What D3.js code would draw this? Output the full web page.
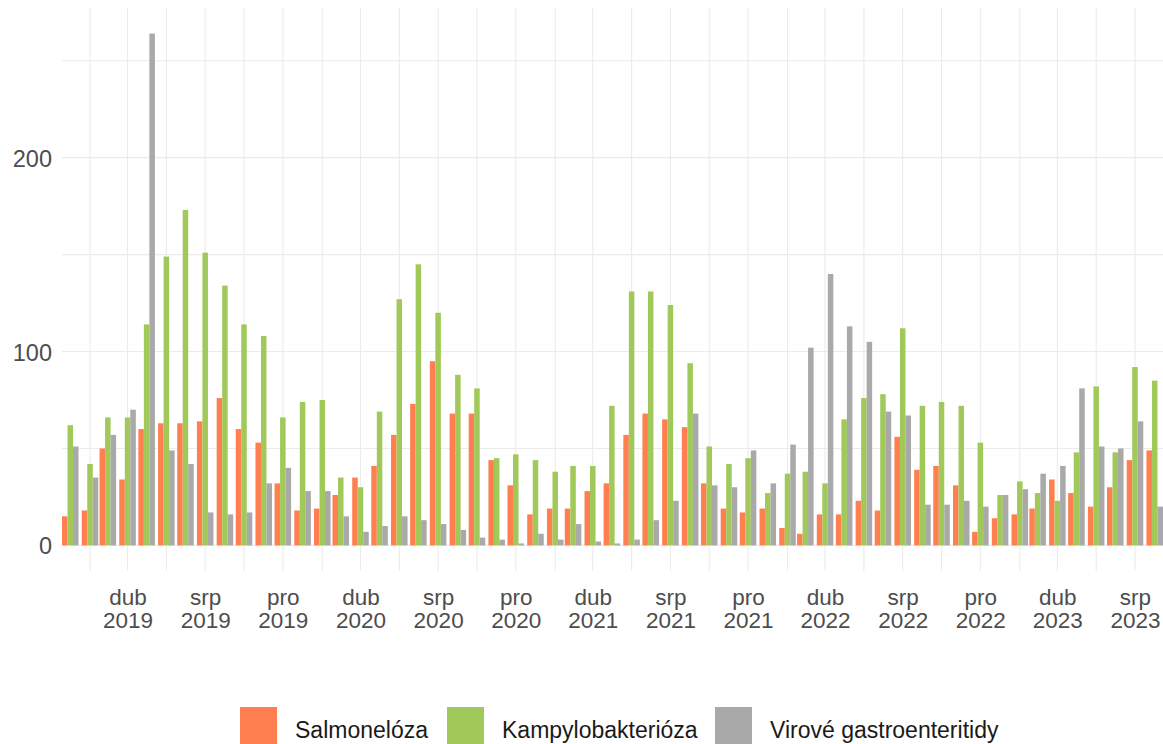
<!DOCTYPE html>
<html>
<head>
<meta charset="utf-8">
<script src="https://cdn.jsdelivr.net/npm/d3@7"></script>
<style>
body { margin: 0; background: #fff; }
svg { display: block; font-family: "Liberation Sans", Arial, sans-serif; }
.grid line { stroke: #ebebeb; stroke-width: 1.1; }
.axis text { fill: #4d4d4d; font-size: 22.5px; }
.axis.y text { font-size: 23.5px; }
.axis path, .axis line { display: none; }
.legend text { font-size: 23px; fill: #1a1a1a; }
</style>
</head>
<body>
<div id="chart"></div>
<script>
// monthly case counts, Jan 2019 - Sep 2023
var months = [
  "2019-01","2019-02","2019-03","2019-04","2019-05","2019-06","2019-07","2019-08","2019-09","2019-10","2019-11","2019-12",
  "2020-01","2020-02","2020-03","2020-04","2020-05","2020-06","2020-07","2020-08","2020-09","2020-10","2020-11","2020-12",
  "2021-01","2021-02","2021-03","2021-04","2021-05","2021-06","2021-07","2021-08","2021-09","2021-10","2021-11","2021-12",
  "2022-01","2022-02","2022-03","2022-04","2022-05","2022-06","2022-07","2022-08","2022-09","2022-10","2022-11","2022-12",
  "2023-01","2023-02","2023-03","2023-04","2023-05","2023-06","2023-07","2023-08","2023-09"
];

var salmonella = [
  15, 18, 50, 34, 60, 63, 63, 64, 76, 60, 53, 32,
  18, 19, 26, 35, 41, 57, 73, 95, 68, 68, 44, 31,
  16, 19, 19, 28, 32, 57, 68, 65, 61, 32, 19, 17,
  19, 9, 6, 16, 16, 23, 18, 56, 39, 41, 31, 7,
  14, 16, 19, 34, 27, 20, 30, 44, 49
];

var kampylo = [
  62, 42, 66, 66, 114, 149, 173, 151, 134, 114, 108, 66,
  74, 75, 35, 30, 69, 127, 145, 120, 88, 81, 45, 47,
  44, 38, 41, 41, 72, 131, 131, 124, 94, 51, 42, 45,
  27, 37, 38, 32, 65, 76, 78, 112, 72, 74, 72, 53,
  26, 33, 27, 23, 48, 82, 48, 92, 85
];

var viral = [
  51, 35, 57, 70, 264, 49, 42, 17, 16, 17, 32, 40,
  28, 28, 15, 7, 10, 15, 13, 11, 8, 4, 3, 1,
  6, 3, 11, 2, 1, 3, 13, 23, 68, 31, 30, 49,
  32, 52, 102, 140, 113, 105, 69, 67, 21, 21, 23, 20,
  26, 29, 37, 41, 81, 51, 50, 64, 20
];

var seriesNames = ["Salmonelóza", "Kampylobakterióza", "Virové gastroenteritidy"];
var colors = ["#ff7f50", "#a1c95a", "#a9a9a9"];
var yTicks = [0, 100, 200];
var yGrid = [0, 50, 100, 150, 200, 250];

var cs = d3.timeFormatLocale({
  dateTime: "%A, %e. %B %Y, %X", date: "%d.%m.%Y", time: "%H:%M:%S",
  periods: ["AM", "PM"],
  days: ["neděle","pondělí","úterý","středa","čtvrtek","pátek","sobota"],
  shortDays: ["ne","po","út","st","čt","pá","so"],
  months: ["leden","únor","březen","duben","květen","červen","červenec","srpen","září","říjen","listopad","prosinec"],
  shortMonths: ["led","úno","bře","dub","kvě","čvn","čvc","srp","zář","říj","lis","pro"]
});
var fmtMonth = cs.format("%b");
var fmtYear = cs.format("%Y");

var parse = d3.timeParse("%Y-%m");
var dates = months.map(parse);
var series = [salmonella, kampylo, viral];

var width = 1163, height = 744;
var panel = {left: 62, right: 1163, top: 8, bottom: 571};
var halfW = 13; // days either side of the month start

var svg = d3.select("#chart").append("svg")
  .attr("width", width)
  .attr("height", height);

var x = d3.scaleTime()
  .domain([d3.timeDay.offset(dates[0], -halfW), d3.timeDay.offset(dates[dates.length - 1], halfW)])
  .range([panel.left, panel.right]);

var ymax = d3.max(series, function(s) { return d3.max(s); });
var y = d3.scaleLinear()
  .domain([-ymax * 0.05, ymax * 1.05])
  .range([panel.bottom, panel.top]);

// grid
var grid = svg.append("g").attr("class", "grid");
grid.selectAll(".hg")
  .data(yGrid)
  .enter().append("line")
  .attr("x1", panel.left).attr("x2", panel.right)
  .attr("y1", function(d) { return y(d); })
  .attr("y2", function(d) { return y(d); });

var gridDates = d3.timeMonth.range(x.domain()[0], x.domain()[1])
  .filter(function(d) { return d.getMonth() % 2 === 1; });
grid.selectAll(".vg")
  .data(gridDates)
  .enter().append("line")
  .attr("x1", function(d) { return x(d); })
  .attr("x2", function(d) { return x(d); })
  .attr("y1", panel.top).attr("y2", panel.bottom);

// bars
var groupW = x(d3.timeDay.offset(dates[0], halfW)) - x(d3.timeDay.offset(dates[0], -halfW));
var x1 = d3.scaleBand().domain([0, 1, 2]).range([0, groupW]);

var groups = svg.append("g").selectAll(".month")
  .data(dates)
  .enter().append("g")
  .attr("class", "month")
  .attr("transform", function(d) { return "translate(" + x(d3.timeDay.offset(d, -halfW)) + ",0)"; });

groups.selectAll("rect")
  .data(function(d, i) { return series.map(function(s, k) { return {k: k, v: s[i]}; }); })
  .enter().append("rect")
  .attr("x", function(d) { return x1(d.k); })
  .attr("width", x1.bandwidth())
  .attr("y", function(d) { return y(d.v); })
  .attr("height", function(d) { return y(0) - y(d.v); })
  .attr("fill", function(d) { return colors[d.k]; });

// y axis
var yAxis = svg.append("g").attr("class", "axis y")
  .attr("transform", "translate(" + (panel.left - 10) + ",0)")
  .call(d3.axisLeft(y).tickValues(yTicks).tickSize(0).tickPadding(0));
yAxis.selectAll("text").attr("dy", "0.36em");

// x axis, labels every 4 months (Apr, Aug, Dec)
var labelDates = gridDates.filter(function(d) { return d.getMonth() % 4 === 3; });
var xAxis = svg.append("g").attr("class", "axis")
  .attr("transform", "translate(0," + panel.bottom + ")")
  .call(d3.axisBottom(x).tickValues(labelDates).tickSize(0).tickFormat(""));
xAxis.selectAll(".tick text").remove();
xAxis.selectAll(".tick").each(function(d) {
  var t = d3.select(this).append("text").attr("text-anchor", "middle");
  t.append("tspan").attr("x", 0).attr("y", 34).text(fmtMonth(d));
  t.append("tspan").attr("x", 0).attr("y", 57).text(fmtYear(d));
});

// legend
var legendX = [240, 447, 715];
var legend = svg.append("g").attr("class", "legend");
var items = legend.selectAll("g")
  .data(seriesNames)
  .enter().append("g")
  .attr("transform", function(d, i) { return "translate(" + legendX[i] + ",707)"; });
items.append("rect")
  .attr("width", 37).attr("height", 37)
  .attr("fill", function(d, i) { return colors[i]; });
items.append("text")
  .attr("x", 55).attr("y", 31)
  .text(function(d) { return d; });
</script>
</body>
</html>
